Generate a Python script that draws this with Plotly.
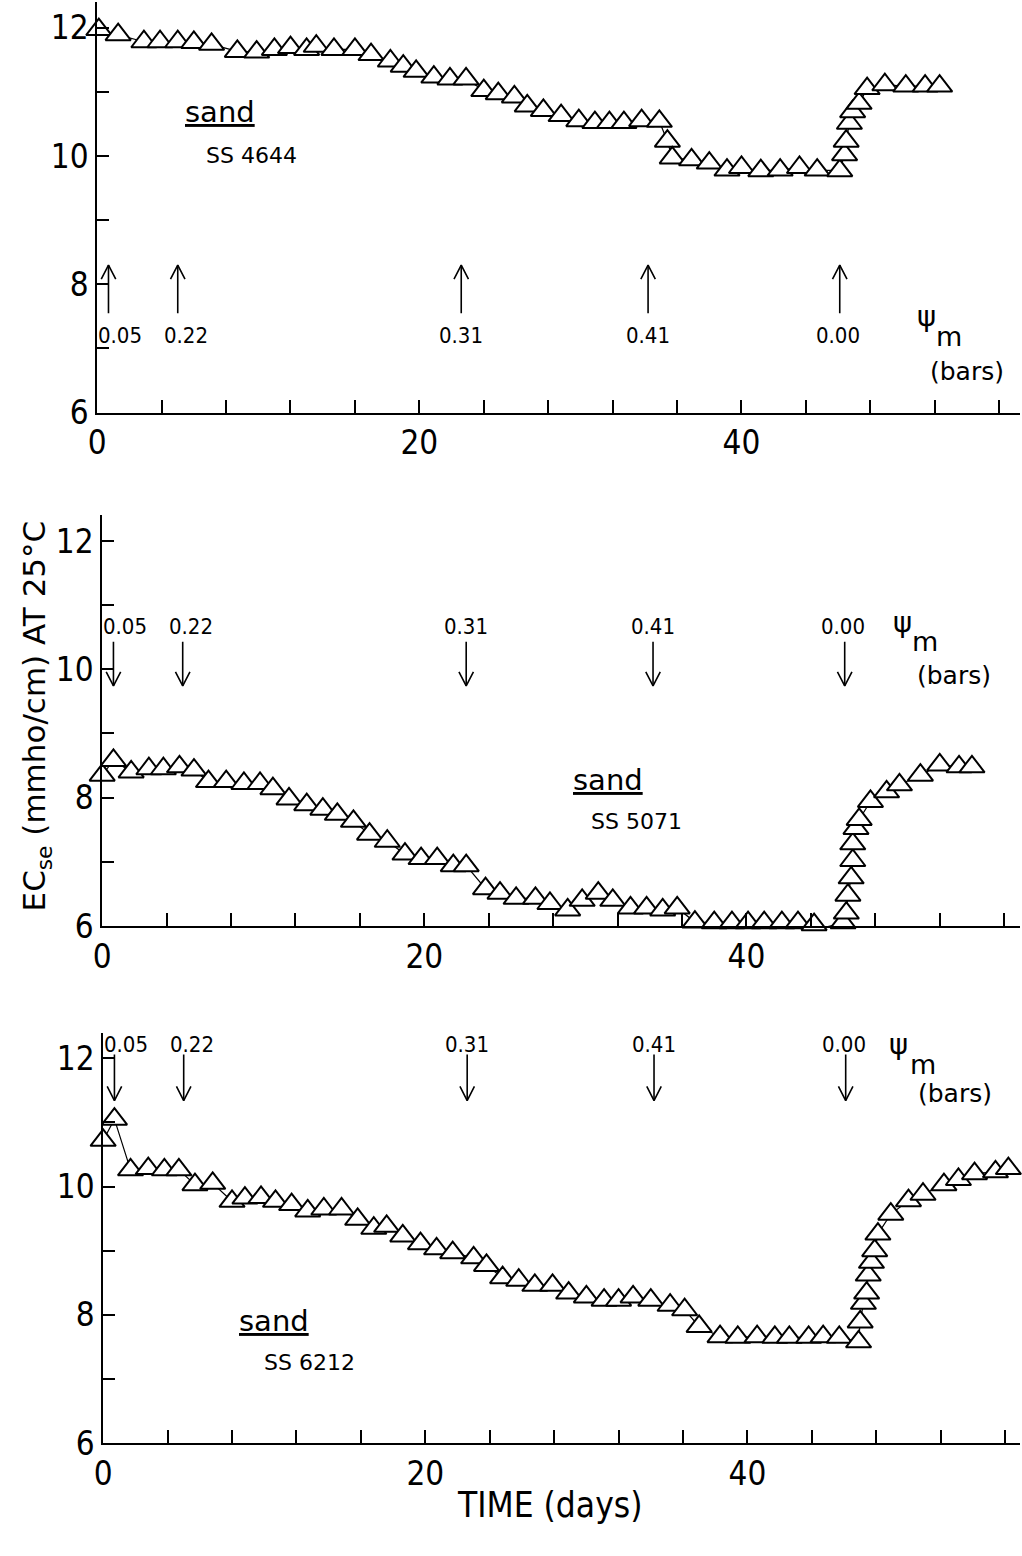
import plotly.graph_objects as go

# ---- data: EC of saturation extract (mmho/cm at 25 C) vs time (days) ----
days_4644 = [0.1, 1.3, 2.9, 3.9, 5.0, 6.0, 7.1, 8.7, 9.9, 11.0, 12.0, 13.0, 13.6, 14.7, 16.0,
             17.0, 18.2, 19.0, 19.8, 20.9, 21.9, 22.9, 24.0, 24.9, 25.9, 26.7, 27.7, 28.8, 29.9,
             30.9, 31.8, 32.7, 33.8, 34.9, 35.4, 35.7, 36.9, 38.0, 39.1, 40.0, 41.2, 42.4, 43.6,
             44.7, 46.1, 46.4, 46.5, 46.7, 46.9, 47.3, 47.8, 48.9, 50.2, 51.4, 52.3]
ec_4644 = [11.97, 11.89, 11.78, 11.78, 11.78, 11.77, 11.74, 11.63, 11.62, 11.66, 11.69, 11.66,
           11.71, 11.66, 11.66, 11.58, 11.48, 11.40, 11.32, 11.23, 11.20, 11.20, 11.02, 10.97,
           10.92, 10.78, 10.71, 10.63, 10.55, 10.52, 10.52, 10.52, 10.55, 10.54, 10.23, 9.97,
           9.94, 9.89, 9.78, 9.82, 9.77, 9.78, 9.82, 9.78, 9.77, 10.02, 10.23, 10.51, 10.69,
           10.82, 11.05, 11.11, 11.09, 11.09, 11.09]

days_5071 = [0.0, 0.7, 1.8, 2.9, 3.8, 4.8, 5.7, 6.6, 7.7, 8.8, 9.8, 10.6, 11.6, 12.7, 13.7,
             14.6, 15.6, 16.6, 17.7, 18.8, 19.8, 20.8, 21.8, 22.6, 23.8, 24.7, 25.7, 26.9, 27.8,
             28.9, 29.8, 30.8, 31.7, 32.8, 33.8, 34.8, 35.7, 36.8, 38.0, 39.1, 40.1, 41.1, 42.2,
             43.2, 44.2, 44.9, 46.0, 46.2, 46.3, 46.5, 46.6, 46.6, 46.8, 47.0, 47.7, 48.7, 49.5,
             50.8, 52.0, 53.2, 54.0]
ec_5071 = [8.35, 8.58, 8.40, 8.45, 8.45, 8.48, 8.43, 8.25, 8.25, 8.22, 8.22, 8.14, 7.98, 7.89,
           7.82, 7.74, 7.63, 7.43, 7.32, 7.12, 7.05, 7.05, 6.94, 6.94, 6.58, 6.51, 6.43, 6.43,
           6.35, 6.25, 6.40, 6.51, 6.40, 6.28, 6.28, 6.25, 6.28, 6.06, 6.05, 6.05, 6.05, 6.05,
           6.05, 6.05, 6.02, 5.98, 6.05, 6.20, 6.48, 6.75, 7.02, 7.28, 7.52, 7.66, 7.94, 8.09,
           8.20, 8.35, 8.51, 8.48, 8.48]

days_6212 = [0.0, 0.7, 1.7, 2.8, 3.8, 4.7, 5.7, 6.8, 8.0, 8.8, 9.8, 10.7, 11.7, 12.7, 13.7,
             14.8, 15.8, 16.8, 17.6, 18.6, 19.7, 20.7, 21.7, 23.0, 23.8, 24.8, 25.8, 26.8, 27.9,
             28.9, 30.0, 31.1, 32.0, 32.9, 34.0, 35.2, 36.1, 37.0, 38.3, 39.4, 40.6, 41.7, 42.6,
             43.8, 44.7, 45.7, 46.9, 47.0, 47.2, 47.4, 47.5, 47.7, 47.9, 48.1, 48.9, 50.0, 50.9,
             52.2, 53.1, 54.1, 55.4, 56.2]
ec_6212 = [10.72, 11.05, 10.26, 10.28, 10.26, 10.26, 10.03, 10.05, 9.77, 9.82, 9.83, 9.77,
           9.72, 9.62, 9.65, 9.65, 9.49, 9.35, 9.38, 9.23, 9.11, 9.03, 8.97, 8.89, 8.77, 8.58,
           8.54, 8.46, 8.46, 8.34, 8.28, 8.23, 8.23, 8.28, 8.23, 8.15, 8.08, 7.82, 7.66, 7.65,
           7.66, 7.65, 7.65, 7.65, 7.66, 7.65, 7.58, 7.89, 8.18, 8.34, 8.62, 8.82, 9.00, 9.26,
           9.57, 9.78, 9.88, 10.03, 10.11, 10.20, 10.23, 10.28]

# matric potential changes (bars) and the day each was imposed
psi_days = [0.7, 5.0, 22.6, 34.2, 46.1]
psi_labels = ["0.05", "0.22", "0.31", "0.41", "0.00"]

soil_names = ["SS 4644", "SS 5071", "SS 6212"]

# ---- panel layout (styles / positions) ----
FIG_W, FIG_H = 1022, 1556
PX_PER_DAY = 16.25
panels = [
    dict(days=days_4644, ec=ec_4644, name=soil_names[0],
         x0px=89, top_px=2, bot_px=418,
         arrow_tail=7.55, arrow_head=8.3, label_y=7.2,
         sand=(7.6, 10.69), code=(9.6, 10.0),
         psi=(51.5, 7.5), m=(52.9, 7.18), bars=(54.0, 6.64)),
    dict(days=days_5071, ec=ec_5071, name=soil_names[1],
         x0px=94, top_px=522, bot_px=938,
         arrow_tail=10.43, arrow_head=9.74, label_y=10.66,
         sand=(31.4, 8.28), code=(33.2, 7.63),
         psi=(49.7, 10.74), m=(51.1, 10.43), bars=(52.9, 9.9)),
    dict(days=days_6212, ec=ec_6212, name=soil_names[2],
         x0px=95, top_px=1046, bot_px=1462,
         arrow_tail=12.06, arrow_head=11.34, label_y=12.22,
         sand=(10.6, 7.91), code=(12.8, 7.26),
         psi=(49.4, 12.22), m=(50.9, 11.9), bars=(52.9, 11.45)),
]

NUM_FONT = "DejaVu Sans Condensed, DejaVu Sans, sans-serif"
TXT_FONT = "DejaVu Sans, sans-serif"
label_xshift = [12, 8, 0, 0, -2]

fig = go.Figure()
annotations = []

for i, p in enumerate(panels):
    k = "" if i == 0 else str(i + 1)
    xref, yref = "x" + k, "y" + k

    # measured EC values: open triangles joined by a thin line
    fig.add_trace(go.Scatter(
        x=p["days"], y=p["ec"], mode="lines+markers",
        line=dict(color="black", width=1.2),
        marker=dict(symbol="triangle-up", size=22, color="white",
                    line=dict(color="black", width=2)),
        cliponaxis=False, showlegend=False, xaxis=xref, yaxis=yref))

    # arrows marking when each matric potential was set
    head_w, head_h = 0.45, 0.22
    sgn = 1 if p["arrow_head"] > p["arrow_tail"] else -1
    ax_x, ax_y = [], []
    for d in psi_days:
        ax_x += [d, d, None, d - head_w, d, d + head_w, None]
        ax_y += [p["arrow_tail"], p["arrow_head"], None,
                 p["arrow_head"] - sgn * head_h, p["arrow_head"],
                 p["arrow_head"] - sgn * head_h, None]
    fig.add_trace(go.Scatter(
        x=ax_x, y=ax_y, mode="lines", line=dict(color="black", width=1.6),
        cliponaxis=False, showlegend=False, hoverinfo="skip",
        xaxis=xref, yaxis=yref))

    for j, (d, lab) in enumerate(zip(psi_days, psi_labels)):
        annotations.append(dict(
            x=d, y=p["label_y"], xref=xref, yref=yref, text=lab, showarrow=False,
            xanchor="center", yanchor="middle", xshift=label_xshift[j],
            font=dict(family=NUM_FONT, size=22, color="black")))

    annotations += [
        dict(x=p["psi"][0], y=p["psi"][1], xref=xref, yref=yref, text="ψ",
             showarrow=False, xanchor="center", yanchor="middle",
             font=dict(family=TXT_FONT, size=29, color="black")),
        dict(x=p["m"][0], y=p["m"][1], xref=xref, yref=yref, text="m",
             showarrow=False, xanchor="center", yanchor="middle",
             font=dict(family=TXT_FONT, size=27, color="black")),
        dict(x=p["bars"][0], y=p["bars"][1], xref=xref, yref=yref, text="(bars)",
             showarrow=False, xanchor="center", yanchor="middle",
             font=dict(family=TXT_FONT, size=25, color="black")),
        dict(x=p["sand"][0], y=p["sand"][1], xref=xref, yref=yref, text="sand",
             showarrow=False, xanchor="center", yanchor="middle",
             font=dict(family=TXT_FONT, size=29, color="black", lineposition="under")),
        dict(x=p["code"][0], y=p["code"][1], xref=xref, yref=yref, text=p["name"],
             showarrow=False, xanchor="center", yanchor="middle",
             font=dict(family=TXT_FONT, size=22, color="black")),
    ]

    x_start = p["x0px"] / FIG_W
    x_end = 1020 / FIG_W
    x_max = (1020 - p["x0px"]) / PX_PER_DAY
    y_lo = 1 - p["bot_px"] / FIG_H
    y_hi = 1 - p["top_px"] / FIG_H
    y_max = 6 + (p["bot_px"] - p["top_px"]) / 65.0

    axis_common = dict(showgrid=False, zeroline=False, showline=True, linecolor="black",
                       linewidth=2, ticks="inside", tickcolor="black", tickwidth=2,
                       tickfont=dict(family=NUM_FONT, size=33, color="black"))
    fig.update_layout(**{
        "xaxis" + k: dict(axis_common, domain=[x_start, x_end], range=[0, x_max],
                          anchor=yref, tick0=0, dtick=20, ticklen=13,
                          minor=dict(dtick=4, tick0=0, ticks="inside", ticklen=13,
                                     tickcolor="black", tickwidth=2)),
        "yaxis" + k: dict(axis_common, domain=[y_lo, y_hi], range=[6, y_max],
                          anchor=xref, tick0=6, dtick=2, ticklen=12,
                          minor=dict(dtick=1, tick0=6, ticks="inside", ticklen=12,
                                     tickcolor="black", tickwidth=2)),
    })

annotations += [
    dict(x=28 / FIG_W, y=1 - 725 / FIG_H, xref="paper", yref="paper",
         xanchor="center", yanchor="middle",
         text="EC<sub>se</sub> (mmho/cm) AT 25°C", textangle=-90, showarrow=False,
         font=dict(family=TXT_FONT, size=31, color="black")),
    dict(x=545 / FIG_W, y=1 - 1525 / FIG_H, xref="paper", yref="paper",
         xanchor="center", yanchor="middle",
         text="TIME (days)", showarrow=False,
         font=dict(family=NUM_FONT, size=35, color="black")),
]

fig.update_layout(
    width=FIG_W, height=FIG_H, margin=dict(l=0, r=0, t=0, b=0),
    paper_bgcolor="white", plot_bgcolor="white", showlegend=False,
    annotations=annotations)

fig.write_html("out.html")
